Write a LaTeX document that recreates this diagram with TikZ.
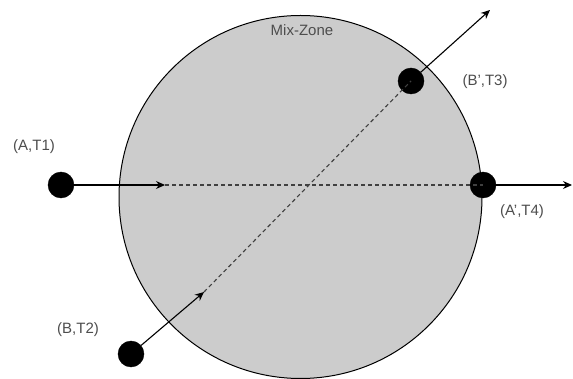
\documentclass[tikz,border=0pt]{standalone}
\usepackage{fontspec}
\setmainfont{Liberation Sans}
\usetikzlibrary{arrows.meta, positioning, calc}

\definecolor{zonegray}{HTML}{CCCCCC}
\definecolor{labelgray}{HTML}{4D4D4D}

\begin{document}
\begin{tikzpicture}[
  x=1pt, y=-1pt,
  dot/.style={circle, fill=black, draw=black, minimum size=26pt, inner sep=0pt},
  lbl/.style={font=\fontsize{15}{17}\selectfont, text=labelgray, inner sep=0pt},
  arr/.style={-{Stealth[length=9pt, width=8pt]}, line width=1.1pt},
  route/.style={dash pattern=on 4pt off 3pt, line width=1.1pt, color=black!75}
]
  \useasboundingbox (0,0) rectangle (573,379);

  % the mix-zone
  \draw[fill=zonegray, line width=1pt] (300.5,197) circle[radius=181.5];
  \node (zone) [lbl] at (302,30) {Mix-Zone};

  % users entering and leaving
  \node (a)  [dot] at (61,185)  {};
  \node (ap) [dot] at (483,185) {};
  \node (b)  [dot] at (131,354) {};
  \node (bp) [dot] at (411,81)  {};

  \node (la)  [lbl] at (34,147)  {(A,T1)};
  \node (lap) [lbl] at (522,212) {(A',T4)};
  \node (lb)  [lbl] at (78,330)  {(B,T2)};
  \node (lbp) [lbl] at (485,82)  {(B',T3)};

  \coordinate (ain)  at (165,185);
  \coordinate (aout) at (572,185);
  \coordinate (bin)  at (204,292);
  \coordinate (bout) at (490,10);

  \draw[route] (ain) -- (ap.center);
  \draw[route] (bin) -- (bp.center);
  \draw[arr] (a)  -- (ain);
  \draw[arr] (ap) -- (aout);
  \draw[arr] (b)  -- (bin);
  \draw[arr] (bp) -- (bout);
\end{tikzpicture}
\end{document}
